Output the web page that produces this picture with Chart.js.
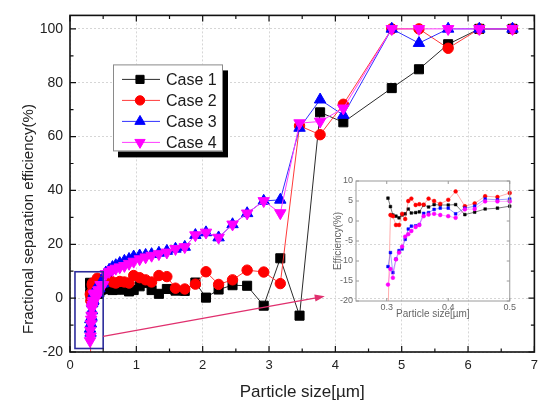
<!DOCTYPE html>
<html><head><meta charset="utf-8">
<script src="https://cdn.jsdelivr.net/npm/chart.js@4.4.1/dist/chart.umd.min.js"></script>
<style>
html,body{margin:0;padding:0;background:#fff;}
#wrap{position:relative;width:544px;height:406px;overflow:hidden;}
#main{position:absolute;left:0;top:0;}
#inset{position:absolute;left:325px;top:170px;}
</style></head><body>
<div id="wrap"><canvas id="main" width="544" height="406"></canvas><canvas id="inset" width="192" height="152"></canvas></div>
<script>
// ---- data (particle size in µm, efficiency in %) ----
const sizes = [0.302,0.306,0.310,0.315,0.320,0.325,0.330,0.335,0.340,0.347,0.353,0.360,0.368,0.377,0.387,0.400,0.412,0.427,0.443,0.460,0.480,0.500,
  0.54,0.59,0.64,0.69,0.75,0.82,0.89,0.96,1.05,1.14,1.23,1.34,1.46,1.59,1.73,1.89,2.05,2.24,2.45,2.67,2.92,3.17,3.46,3.77,4.12,4.85,5.26,5.70,6.17,6.67];
const case1 = [5.7,3.6,1.5,1.2,0.8,1.5,1.8,3.0,2.0,2.1,2.3,4.0,3.5,4.1,4.0,4.0,4.1,1.6,2.2,3.0,3.2,3.7,
  3.5,3.5,3.0,3.2,3.2,3.2,2.5,3.0,4.4,5.6,3.0,1.6,3.4,2.8,2.7,5.8,0.2,3.2,4.8,4.6,-2.8,14.8,-6.5,69,65.3,78,85,94.3,100,100];
const case2 = [-24,1.5,1.2,-1.0,-1.0,1.8,0.5,5.0,5.6,4.0,4.2,4.1,5.6,5.0,4.3,5.3,7.4,3.7,4.4,6.2,6.0,7.0,
  7.2,6.8,6.0,5.6,6.2,6.0,5.6,8.4,7.6,6.8,6.0,8.4,8.0,3.7,3.4,5.2,9.8,5.1,6.8,10.4,9.7,5.4,64,60.7,72,100,100,92.8,100,100];
const case3 = [-11.4,-7.9,-12.9,-9.5,-7.4,-7.0,-4.6,-2.0,-1.3,-1.2,-0.9,1.9,2.1,2.9,3.2,3.2,1.8,3.2,3.7,5.5,5.3,5.5,
  9.5,10.5,11.5,12.2,13.0,13.8,14.5,15.4,15.8,16.0,16.3,16.8,17.5,18.3,19.0,23.4,24.4,22.5,27.4,31.5,36.1,36.5,63.2,73.7,68,100,94.7,100,100,100];
const case4 = [-15.9,-12.0,-14.2,-9.6,-7.9,-6.4,-3.9,-3.3,-2.5,-1.5,-1.0,1.2,1.6,1.8,1.5,1.2,0.8,2.9,3.0,4.9,4.9,4.9,
  9.0,9.8,10.5,11.0,11.5,12.0,12.8,13.6,14.5,15.2,15.8,16.4,17.0,18.3,19.0,23.4,24.4,22.5,27.4,31.5,36.1,31.6,65,65.6,70.5,100,100,100,100,100];
const seriesNames = ['Case 1','Case 2','Case 3','Case 4'];
const seriesValues = [case1, case2, case3, case4];

const xTicks = [0,1,2,3,4,5,6,7];
const yTicks = [-20,0,20,40,60,80,100];
const insetXTicks = [0.3,0.4,0.5];
const insetYTicks = [-20,-15,-10,-5,0,5,10];
const insetMaxSize = 0.5;
const yTitleText = 'Fractional separation efficiency(%)';

// ---- styles ----
const FONT = 'Arial, "Liberation Sans", Helvetica, sans-serif';
const styles = [
  {line:'#2b2b2b', fill:'#000000', point:'rect', r:6.4, rot:0, order:4, insetLine:'rgba(40,40,40,0.75)', insetPt:'rect'},
  {line:'#ff3a3a', fill:'#ff0000', point:'circle', r:5.2, rot:0, order:3, insetLine:'rgba(255,70,70,0.55)', insetPt:'circle'},
  {line:'#3030ff', fill:'#0000ff', point:'triangle', r:6.6, rot:0, order:2, insetLine:'rgba(60,60,255,0.6)', insetPt:'rect'},
  {line:'#ff3cff', fill:'#ff00ff', point:'triangle', r:6.6, rot:180, order:1, insetLine:'rgba(255,60,255,0.55)', insetPt:'circle'}
];
const zoomBox = {x0:0.075, x1:0.5, y0:-18.7, y1:9.8};
const arrowLine = {x0:0.5, y0:-14.2, x1:3.84, y1:0.7};

function pairs(vals, filter) {
  const out = [];
  sizes.forEach((s,i)=>{ if (!filter || filter(s)) out.push({x:s, y:vals[i]}); });
  return out;
}
function minorOf(arr){ return arr.slice(1).map((v,i)=>(v+arr[i])/2); }

function drawMarker(ctx, st, x, y, r) {
  ctx.beginPath();
  if (st.point === 'rect') { const s = r*Math.SQRT1_2; ctx.rect(x-s, y-s, 2*s, 2*s); }
  else if (st.point === 'circle') { ctx.arc(x, y, r, 0, Math.PI*2); }
  else {
    const base = st.rot*Math.PI/180;
    for (let k=0;k<3;k++){ const a = base + k*2*Math.PI/3; ctx.lineTo(x+Math.sin(a)*r, y-Math.cos(a)*r); }
    ctx.closePath();
  }
  ctx.fillStyle = st.fill; ctx.strokeStyle = st.fill; ctx.lineWidth = 1;
  ctx.fill(); ctx.stroke();
}

function frameTicks(chart, cfg) {
  const {ctx, chartArea:a} = chart; const xs = chart.scales.x, ys = chart.scales.y;
  ctx.save();
  ctx.setLineDash([]);
  ctx.strokeStyle = cfg.color; ctx.lineWidth = cfg.tickWidth;
  ctx.beginPath();
  const vx = (list, len) => list.forEach(v=>{ const p = xs.getPixelForValue(v);
    ctx.moveTo(p, a.bottom); ctx.lineTo(p, a.bottom-len); ctx.moveTo(p, a.top); ctx.lineTo(p, a.top+len); });
  const vy = (list, len) => list.forEach(v=>{ const p = ys.getPixelForValue(v);
    ctx.moveTo(a.left, p); ctx.lineTo(a.left+len, p); ctx.moveTo(a.right, p); ctx.lineTo(a.right-len, p); });
  vx(cfg.xMajor, cfg.major); vx(cfg.xMinor, cfg.minor);
  vy(cfg.yMajor, cfg.major); vy(cfg.yMinor, cfg.minor);
  ctx.stroke();
  ctx.lineWidth = cfg.width;
  ctx.strokeRect(a.left, a.top, a.right-a.left, a.bottom-a.top);
  ctx.restore();
}

const mainPlugin = {
  id:'mainDecor',
  afterDatasetsDraw(chart) {
    const {ctx, chartArea:a} = chart; const xs = chart.scales.x, ys = chart.scales.y;
    // zoom box
    ctx.save();
    ctx.strokeStyle = '#2c2c9c'; ctx.lineWidth = 1.6;
    const bx0 = xs.getPixelForValue(zoomBox.x0), bx1 = xs.getPixelForValue(zoomBox.x1);
    const by0 = ys.getPixelForValue(zoomBox.y1), by1 = ys.getPixelForValue(zoomBox.y0);
    ctx.strokeRect(bx0, by0, bx1-bx0, by1-by0);
    // arrow
    const ax0 = xs.getPixelForValue(arrowLine.x0), ay0 = ys.getPixelForValue(arrowLine.y0);
    const ax1 = xs.getPixelForValue(arrowLine.x1), ay1 = ys.getPixelForValue(arrowLine.y1);
    const ang = Math.atan2(ay1-ay0, ax1-ax0);
    ctx.strokeStyle = '#e0306e'; ctx.fillStyle = '#e0306e'; ctx.lineWidth = 1.4;
    ctx.beginPath(); ctx.moveTo(ax0, ay0); ctx.lineTo(ax1 - 6*Math.cos(ang), ay1 - 6*Math.sin(ang)); ctx.stroke();
    ctx.beginPath(); ctx.moveTo(ax1, ay1);
    ctx.lineTo(ax1 - 10*Math.cos(ang) + 3.5*Math.sin(ang), ay1 - 10*Math.sin(ang) - 3.5*Math.cos(ang));
    ctx.lineTo(ax1 - 10*Math.cos(ang) - 3.5*Math.sin(ang), ay1 - 10*Math.sin(ang) + 3.5*Math.cos(ang));
    ctx.closePath(); ctx.fill();
    ctx.restore();
    // frame + inward ticks
    frameTicks(chart, {color:'#111', width:1.6, tickWidth:1.2, major:6, minor:3.5,
      xMajor:xTicks, xMinor:minorOf(xTicks), yMajor:yTicks, yMinor:minorOf(yTicks)});
    // y-axis title (placed lower than centre, as in the original figure)
    ctx.save();
    ctx.translate(29, a.top + (a.bottom - a.top) * 0.605);
    ctx.rotate(-Math.PI/2);
    ctx.font = '15px ' + FONT; ctx.fillStyle = '#222'; ctx.textAlign = 'center'; ctx.textBaseline = 'middle';
    ctx.fillText(yTitleText, 0, 0);
    ctx.restore();
    // legend
    const L = a.left + 43, T = a.top + 49, W = 110, H = 87;
    ctx.save();
    ctx.fillStyle = '#000'; ctx.fillRect(L+5, T+6, W, H);
    ctx.fillStyle = '#fff'; ctx.fillRect(L, T, W, H);
    ctx.strokeStyle = '#8a8a8a'; ctx.lineWidth = 1; ctx.strokeRect(L+0.5, T+0.5, W-1, H-1);
    ctx.font = '16px ' + FONT; ctx.textBaseline = 'middle'; ctx.textAlign = 'left';
    chart.data.datasets.forEach((ds, i) => {
      const st = styles[i]; const y = T + 15 + i*21;
      ctx.strokeStyle = st.line; ctx.lineWidth = 1; ctx.beginPath(); ctx.moveTo(L+9, y); ctx.lineTo(L+47, y); ctx.stroke();
      drawMarker(ctx, st, L+27, y, st.r*0.9);
      ctx.fillStyle = '#1a1a1a'; ctx.fillText(ds.label, L+53, y+1);
    });
    ctx.restore();
  }
};

const insetPlugin = {
  id:'insetDecor',
  afterDatasetsDraw(chart) {
    frameTicks(chart, {color:'#9a9a9a', width:1, tickWidth:1, major:3, minor:0,
      xMajor:insetXTicks, xMinor:[], yMajor:insetYTicks, yMinor:[]});
  }
};

Chart.defaults.font.family = FONT;

new Chart(document.getElementById('main'), {
  type:'scatter',
  data:{ datasets: seriesValues.map((vals,i)=>({
    label: seriesNames[i], data: pairs(vals), showLine:true, order: styles[i].order,
    borderColor: styles[i].line, borderWidth: 1, backgroundColor: styles[i].fill,
    pointStyle: styles[i].point, pointRotation: styles[i].rot, pointRadius: styles[i].r,
    pointBackgroundColor: styles[i].fill, pointBorderColor: styles[i].fill, pointBorderWidth: 1,
    tension: 0
  }))},
  options:{
    responsive:false, animation:false, events:[],
    layout:{padding:{left:0, right:4, top:8, bottom:0}},
    plugins:{legend:{display:false}, tooltip:{enabled:false}},
    scales:{
      x:{type:'linear', min:0, max:7,
        afterBuildTicks: s => { s.ticks = xTicks.map(v=>({value:v})); },
        afterFit: s => { s.height = 54; },
        grid:{color:'#d6d6d6', lineWidth:1, drawTicks:false},
        border:{display:false, dash:[2,2]},
        ticks:{padding:6, color:'#222', font:{size:13}, maxRotation:0, autoSkip:false},
        title:{display:true, text:'Particle size[µm]', color:'#222', font:{size:17}, padding:{top:0, bottom:3}}
      },
      y:{type:'linear', min:-20, max:105,
        afterBuildTicks: s => { s.ticks = yTicks.map(v=>({value:v})); },
        afterFit: s => { s.width = 70; },
        grid:{color:'#d6d6d6', lineWidth:1, drawTicks:false},
        border:{display:false, dash:[2,2]},
        ticks:{padding:7, color:'#222', font:{size:14}, autoSkip:false},
        title:{display:false}
      }
    }
  },
  plugins:[mainPlugin]
});

new Chart(document.getElementById('inset'), {
  type:'scatter',
  data:{ datasets: seriesValues.map((vals,i)=>({
    label: seriesNames[i], data: pairs(vals, s => s <= insetMaxSize), showLine:true, order: styles[i].order,
    borderColor: styles[i].insetLine, borderWidth: 0.8,
    pointStyle: styles[i].insetPt, pointRadius: 1.9,
    pointBackgroundColor: styles[i].fill, pointBorderColor: styles[i].fill, pointBorderWidth: 0.5,
    tension: 0, clip:{left:4, right:4, top:4, bottom:0}
  }))},
  options:{
    responsive:false, animation:false, events:[],
    layout:{padding:{left:0, right:6, top:11, bottom:0}},
    plugins:{legend:{display:false}, tooltip:{enabled:false}},
    scales:{
      x:{type:'linear', min:0.25, max:0.5,
        afterBuildTicks: s => { s.ticks = insetXTicks.map(v=>({value:v})); },
        afterFit: s => { s.height = 21; },
        grid:{display:false, drawTicks:false}, border:{display:false},
        ticks:{padding:1, color:'#666', font:{size:9}, maxRotation:0, autoSkip:false, callback: v => v.toFixed(1)},
        title:{display:true, text:'Particle size[µm]', color:'#666', font:{size:10}, padding:{top:0, bottom:2}}
      },
      y:{type:'linear', min:-20, max:10,
        afterBuildTicks: s => { s.ticks = insetYTicks.map(v=>({value:v})); },
        afterFit: s => { s.width = 31; },
        grid:{display:false, drawTicks:false}, border:{display:false},
        ticks:{padding:3, color:'#666', font:{size:9}, autoSkip:false},
        title:{display:true, text:'Efficiency(%)', color:'#666', font:{size:10}, padding:{top:7, bottom:0}}
      }
    }
  },
  plugins:[insetPlugin]
});
</script>
</body></html>
